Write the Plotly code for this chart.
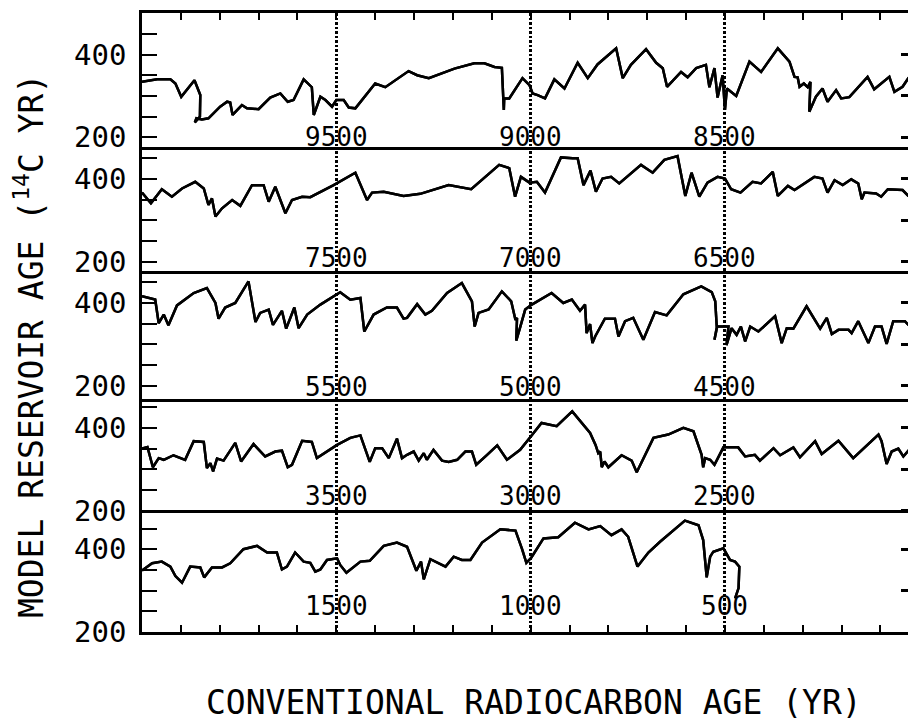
import plotly.graph_objects as go

# ---- model reservoir age (14C yr) against conventional radiocarbon age (yr) ----
# five stacked panels, 2000 years each, time running right to left

age_p1 = [10000, 9961, 9927, 9914, 9899, 9865, 9850, 9851, 9864, 9860, 9846, 9829, 9799, 9781,
          9773, 9767, 9743, 9730, 9700, 9670, 9644, 9625, 9610, 9584, 9563, 9558, 9541, 9528,
          9511, 9500, 9481, 9468, 9451, 9425, 9400, 9374, 9314, 9292, 9262, 9196, 9145, 9119,
          9093, 9074, 9069, 9068, 9055, 9021, 9003, 8995, 8982, 8963, 8939, 8913, 8879, 8853,
          8828, 8780, 8763, 8742, 8703, 8677, 8660, 8649, 8613, 8596, 8574, 8549, 8540, 8527,
          8519, 8506, 8500, 8495, 8471, 8437, 8407, 8364, 8334, 8321, 8313, 8308, 8297, 8287,
          8280, 8283, 8266, 8249, 8236, 8214, 8201, 8180, 8133, 8116, 8077, 8064, 8043, 8028,
          8010]
res_p1 = [334, 340, 340, 330, 298, 338, 302, 250, 236, 246, 243, 246, 274, 286,
          284, 254, 278, 270, 268, 296, 306, 286, 290, 340, 321, 254, 298, 290,
          274, 290, 290, 272, 270, 302, 330, 321, 360, 350, 343, 366, 379, 379,
          370, 368, 266, 294, 294, 343, 326, 306, 302, 294, 340, 318, 380, 343,
          376, 415, 343, 375, 413, 380, 367, 322, 358, 345, 367, 375, 321, 367,
          296, 350, 266, 318, 300, 383, 358, 415, 383, 346, 345, 322, 330, 321,
          334, 262, 298, 318, 286, 314, 294, 297, 346, 316, 346, 310, 322, 343,
          360]

age_p2 = [8000, 7977, 7949, 7923, 7897, 7863, 7841, 7829, 7820, 7811, 7794, 7768, 7747, 7717,
          7687, 7674, 7657, 7631, 7614, 7588, 7567, 7507, 7451, 7421, 7408, 7378, 7327, 7284,
          7211, 7196, 7153, 7081, 7055, 7040, 7025, 7003, 6984, 6963, 6922, 6892, 6879, 6864,
          6846, 6832, 6815, 6793, 6772, 6716, 6686, 6656, 6622, 6602, 6586, 6566, 6545, 6519,
          6500, 6484, 6460, 6429, 6407, 6377, 6364, 6338, 6321, 6270, 6249, 6236, 6218, 6197,
          6175, 6157, 6148, 6141, 6111, 6098, 6081, 6043, 6028, 6010]
res_p2 = [367, 341, 375, 357, 377, 393, 377, 337, 353, 309, 329, 349, 335, 385,
          385, 345, 381, 317, 349, 357, 356, 385, 415, 349, 367, 369, 359, 364,
          385, 382, 375, 434, 426, 357, 405, 391, 393, 367, 452, 450, 450, 385,
          420, 369, 401, 405, 389, 434, 415, 446, 455, 359, 415, 357, 391, 405,
          401, 375, 367, 393, 389, 417, 359, 383, 373, 405, 401, 367, 397, 385,
          399, 389, 351, 367, 365, 357, 375, 373, 359, 350]

age_p3 = [6000, 5966, 5957, 5944, 5932, 5910, 5867, 5833, 5811, 5803, 5786, 5760, 5726, 5708,
          5696, 5674, 5663, 5640, 5629, 5608, 5597, 5575, 5541, 5490, 5464, 5438, 5428, 5404,
          5370, 5344, 5327, 5318, 5292, 5271, 5254, 5215, 5177, 5151, 5144, 5134, 5108, 5074,
          5050, 5039, 5035, 5037, 5027, 5014, 4997, 4946, 4916, 4894, 4873, 4860, 4856, 4847,
          4841, 4834, 4809, 4783, 4774, 4757, 4736, 4710, 4680, 4650, 4607, 4561, 4534, 4525,
          4521, 4527, 4520, 4491, 4496, 4483, 4470, 4459, 4448, 4435, 4414, 4371, 4354, 4341,
          4324, 4290, 4255, 4238, 4225, 4208, 4182, 4174, 4157, 4131, 4114, 4097, 4084, 4067,
          4037, 4028, 4010]
res_p3 = [416, 408, 351, 372, 346, 394, 424, 436, 400, 362, 389, 400, 452, 354,
          376, 384, 347, 381, 338, 389, 339, 372, 396, 426, 408, 412, 331, 372,
          389, 389, 362, 364, 397, 372, 381, 424, 448, 404, 343, 376, 384, 428,
          404, 359, 364, 309, 341, 384, 396, 424, 400, 408, 381, 396, 327, 349,
          303, 319, 362, 362, 319, 356, 364, 311, 378, 370, 421, 440, 426, 404,
          341, 311, 343, 343, 298, 339, 323, 343, 307, 343, 331, 368, 303, 339,
          338, 392, 338, 364, 325, 335, 335, 327, 356, 303, 343, 343, 301, 356,
          356, 347, 335]

age_p4 = [4000, 3986, 3972, 3957, 3944, 3919, 3889, 3867, 3841, 3833, 3824, 3817, 3807, 3790,
          3760, 3745, 3713, 3683, 3657, 3640, 3625, 3614, 3588, 3563, 3550, 3498, 3464, 3438,
          3414, 3400, 3382, 3365, 3344, 3331, 3318, 3301, 3288, 3275, 3267, 3250, 3228, 3211,
          3189, 3168, 3151, 3140, 3112, 3086, 3061, 3027, 2999, 2972, 2933, 2893, 2847, 2833,
          2826, 2821, 2817, 2810, 2800, 2766, 2740, 2727, 2684, 2646, 2607, 2581, 2560, 2556,
          2551, 2538, 2527, 2504, 2466, 2448, 2423, 2410, 2375, 2358, 2324, 2307, 2268, 2251,
          2208, 2170, 2105, 2097, 2084, 2071, 2054, 2041, 2028, 2010]
res_p4 = [350, 354, 305, 327, 323, 334, 323, 368, 366, 303, 315, 295, 326, 321,
          364, 319, 361, 331, 343, 345, 305, 311, 369, 366, 327, 359, 376, 382,
          318, 351, 351, 327, 374, 327, 335, 343, 321, 339, 323, 347, 321, 318,
          323, 343, 343, 311, 335, 358, 323, 347, 380, 412, 404, 440, 388, 359,
          339, 343, 305, 319, 305, 334, 321, 293, 376, 384, 400, 392, 335, 305,
          327, 323, 311, 353, 353, 331, 335, 321, 351, 334, 353, 329, 368, 337,
          369, 327, 384, 368, 313, 343, 350, 331, 345, 360]

age_p5 = [2000, 1998, 1974, 1949, 1927, 1914, 1897, 1876, 1850, 1840, 1820, 1794, 1773, 1739,
          1704, 1678, 1653, 1640, 1627, 1606, 1584, 1567, 1554, 1541, 1524, 1498, 1490, 1474,
          1438, 1414, 1378, 1344, 1318, 1294, 1282, 1275, 1258, 1219, 1198, 1177, 1155, 1125,
          1078, 1039, 1022, 1011, 998, 967, 929, 886, 851, 821, 792, 766, 749, 725,
          697, 667, 603, 568, 556, 547, 538, 530, 504, 487, 474, 463, 465, 474]
res_p5 = [348, 350, 366, 370, 358, 335, 319, 358, 356, 332, 356, 356, 366, 400,
          408, 392, 392, 351, 358, 392, 370, 367, 346, 351, 374, 378, 362, 343,
          370, 372, 408, 416, 406, 348, 370, 327, 376, 358, 382, 374, 374, 416,
          448, 445, 400, 367, 380, 426, 429, 464, 448, 456, 434, 448, 430, 358,
          392, 418, 469, 458, 422, 332, 382, 394, 402, 374, 370, 358, 306, 281]

ages = [age_p1, age_p2, age_p3, age_p4, age_p5]
reservoir = [res_p1, res_p2, res_p3, res_p4, res_p5]

panel_start = [10000, 8000, 6000, 4000, 2000]      # oldest age at the left edge of each panel
panel_labels = [[9500, 9000, 8500], [7500, 7000, 6500], [5500, 5000, 4500],
                [3500, 3000, 2500], [1500, 1000, 500]]
y_ranges = [[177.3, 500.3], [178.3, 477.8], [167.9, 477.9], [195.2, 469.8], [200.0, 488.2]]
label_level = [201, 210, 198, 236, 263]           # height of the age labels inside each panel
visible_span = 1971                                # years shown across the plot width

FONT = "DejaVu Sans Mono"
INK = "black"

# panel heights follow their y extents so every panel shares one vertical scale
extent = [r[1] - r[0] for r in y_ranges]
total = sum(extent)
domains = []
top = 1.0
for e in extent:
    bottom = top - e / total
    domains.append([max(bottom, 0.0), top])
    top = bottom
domains[-1][0] = 0.0

fig = go.Figure()
layout = {}
annotations = []

for i in range(5):
    n = i + 1
    xa = "x" if n == 1 else f"x{n}"
    ya = "y" if n == 1 else f"y{n}"
    yr = f"y{n + 5}"

    curve = dict(x=ages[i], y=reservoir[i], mode="lines",
                 line=dict(color=INK, width=2.5),
                 showlegend=False, hoverinfo="skip")
    fig.add_trace(go.Scatter(xaxis=xa, yaxis=ya, **curve))
    # same curve on the companion axis that carries the right-hand ticks
    fig.add_trace(go.Scatter(xaxis=xa, yaxis=yr, **curve))

    is_top = (n == 1)
    is_bottom = (n == 5)
    framed = is_top or is_bottom
    # outer panels draw the frame with ticks (and mirror the line to their inner edge);
    # panels 2 and 3 draw only their lower separator
    layout["xaxis" if n == 1 else f"xaxis{n}"] = dict(
        domain=[0, 1], anchor=ya,
        range=[panel_start[i], panel_start[i] - visible_span],
        side="top" if is_top else "bottom",
        showline=framed or n in (2, 3), linecolor=INK, linewidth=2.5,
        mirror=True if framed else False,
        ticks="inside" if framed else "", ticklen=7, tickwidth=2, tickcolor=INK,
        tick0=0, dtick=500,
        minor=dict(dtick=100, ticks="inside" if framed else "",
                   ticklen=7, tickwidth=2, tickcolor=INK, showgrid=False),
        showgrid=True, gridcolor=INK, gridwidth=2.5, griddash="2.5px,2px",
        showticklabels=False, zeroline=False,
    )
    layout["yaxis" if n == 1 else f"yaxis{n}"] = dict(
        domain=domains[i], anchor=xa, range=y_ranges[i],
        showline=True, linecolor=INK, linewidth=2.5, mirror=False,
        ticks="inside", ticklen=15, tickwidth=2, tickcolor=INK,
        tickvals=[200, 250, 300, 350, 400, 450],
        ticktext=["200", "", "", "", "400", ""],
        tickfont=dict(family=FONT, size=29, color=INK),
        ticklabelstandoff=7,
        showgrid=False, zeroline=False,
    )
    layout[f"yaxis{n + 5}"] = dict(
        overlaying=ya, anchor=xa, side="right", range=y_ranges[i],
        showline=False, ticks="inside", ticklen=7, tickwidth=2.5, tickcolor=INK,
        tickvals=[200, 300, 400], showticklabels=False,
        showgrid=False, zeroline=False,
    )

    for lab in panel_labels[i]:
        annotations.append(dict(
            x=lab, y=label_level[i], xref=xa, yref=ya, text=str(lab),
            showarrow=False, xanchor="center", yanchor="middle",
            font=dict(family=FONT, size=26, color=INK),
        ))

annotations.append(dict(
    x=0.5117, y=-0.1147, xref="paper", yref="paper",
    text="CONVENTIONAL RADIOCARBON AGE (YR)",
    showarrow=False, xanchor="center", yanchor="middle",
    font=dict(family=FONT, size=33, color=INK),
))
annotations.append(dict(
    x=-0.1475, y=0.462, xref="paper", yref="paper",
    text="MODEL RESERVOIR AGE (<sup>14</sup>C YR)", textangle=-90,
    showarrow=False, xanchor="center", yanchor="middle",
    font=dict(family=FONT, size=33, color=INK),
))

fig.update_layout(
    width=908, height=724,
    margin=dict(l=142, r=0, t=13, b=92),
    paper_bgcolor="white", plot_bgcolor="white",
    annotations=annotations,
    **layout,
)

fig.write_html("out.html")
